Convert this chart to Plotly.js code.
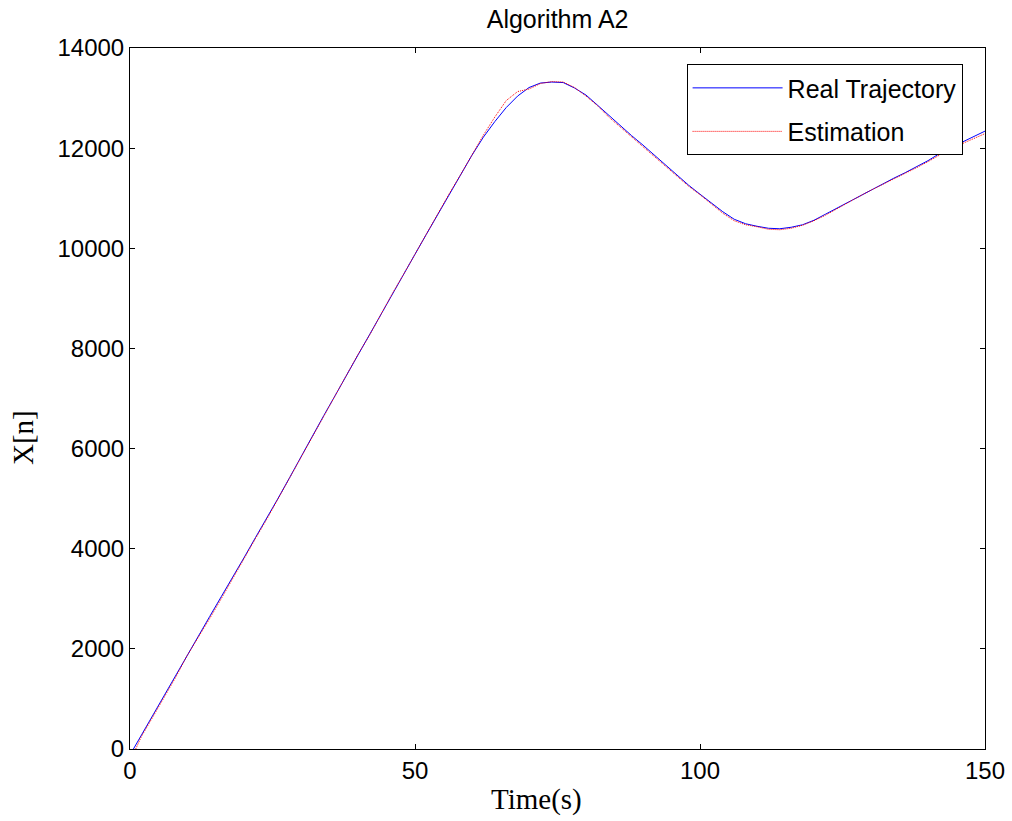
<!DOCTYPE html>
<html>
<head>
<meta charset="utf-8">
<script src="https://cdn.plot.ly/plotly-3.0.1.min.js"></script>
<style>html,body{margin:0;padding:0;background:#fff;}#chart{width:1012px;height:821px;}</style>
</head>
<body>
<div id="chart"></div>
<script>
var timeReal = [0.6, 2, 4, 6, 8, 10, 12, 14, 16, 18, 20, 22, 24, 26, 28, 30, 32, 34, 36, 38, 40, 42, 44, 46, 48, 50, 52, 54, 56, 58, 60, 62, 64, 66, 68, 70, 72, 74, 76, 78, 80, 82, 84, 86, 88, 90, 92, 94, 96, 98, 100, 102, 104, 106, 108, 110, 112, 114, 116, 118, 120, 122, 124, 126, 128, 130, 132, 134, 136, 138, 140, 142, 144, 146, 148, 150];
var realTrajectory = [0, 280, 680, 1080, 1480, 1870, 2260, 2650, 3040, 3420, 3820, 4220, 4610, 5010, 5420, 5840, 6250, 6660, 7060, 7480, 7870, 8270, 8680, 9080, 9490, 9880, 10280, 10680, 11080, 11480, 11860, 12220, 12530, 12810, 13040, 13210, 13300, 13320, 13310, 13200, 13060, 12860, 12650, 12450, 12250, 12060, 11860, 11660, 11460, 11260, 11080, 10910, 10730, 10580, 10490, 10440, 10400, 10390, 10420, 10470, 10560, 10680, 10800, 10930, 11050, 11170, 11280, 11400, 11510, 11630, 11750, 11890, 12020, 12120, 12230, 12340];
var timeEst = [1.0, 2, 4, 6, 8, 10, 12, 14, 16, 18, 20, 22, 24, 26, 28, 30, 32, 34, 36, 38, 40, 42, 44, 46, 48, 50, 52, 54, 56, 58, 60, 62, 64, 66, 68, 70, 72, 74, 76, 78, 80, 82, 84, 86, 88, 90, 92, 94, 96, 98, 100, 102, 104, 106, 108, 110, 112, 114, 116, 118, 120, 122, 124, 126, 128, 130, 132, 134, 136, 138, 140, 142, 144, 146, 148, 150];
var estimation = [0, 250, 640, 1030, 1430, 1860, 2230, 2610, 3000, 3410, 3800, 4200, 4590, 5000, 5430, 5830, 6260, 6650, 7070, 7470, 7880, 8260, 8690, 9090, 9480, 9890, 10270, 10690, 11090, 11470, 11880, 12260, 12620, 12950, 13130, 13180, 13290, 13330, 13320, 13210, 13040, 12850, 12620, 12420, 12230, 12030, 11840, 11640, 11430, 11240, 11070, 10880, 10700, 10550, 10470, 10430, 10380, 10370, 10400, 10460, 10550, 10660, 10790, 10920, 11040, 11160, 11270, 11390, 11500, 11610, 11730, 11860, 11990, 12090, 12190, 12290];
var xTicks = [0, 50, 100, 150];
var yTicks = [0, 2000, 4000, 6000, 8000, 10000, 12000, 14000];

var traces = [
  {x: timeReal, y: realTrajectory, type: 'scatter', mode: 'lines', name: 'Real Trajectory',
   legendgroup: 'a', line: {color: '#0000ff', width: 1}},
  {x: timeEst, y: estimation, type: 'scatter', mode: 'lines', name: 'Estimation',
   legendgroup: 'b', line: {color: '#ff0000', width: 1, dash: '1px,1px'}}
];
var axisCommon = {
  showgrid: false, zeroline: false, showline: true, mirror: 'ticks',
  linecolor: '#000', linewidth: 1, ticks: 'inside', ticklen: 5, tickcolor: '#000',
  tickfont: {family: 'Liberation Sans, Arial, sans-serif', size: 24, color: '#000'}
};
var serif = {family: 'Liberation Serif, Times New Roman, serif', size: 29, color: '#000'};
var layout = {
  width: 1012, height: 821,
  margin: {l: 130, r: 27, t: 48, b: 72},
  paper_bgcolor: '#fff', plot_bgcolor: '#fff',
  showlegend: true,
  title: {text: 'Algorithm A2', x: 0.551, xanchor: 'center', y: 0.976, yanchor: 'middle',
          font: {family: 'Liberation Sans, Arial, sans-serif', size: 25, color: '#000'}},
  xaxis: Object.assign({}, axisCommon, {range: [0, 150], tickvals: xTicks, ticktext: xTicks.map(String)}),
  yaxis: Object.assign({}, axisCommon, {range: [0, 14000], tickvals: yTicks, ticktext: yTicks.map(String)}),
  annotations: [
    {text: 'Time(s)', xref: 'paper', yref: 'paper', x: 0.475, y: -0.072, xanchor: 'center', yanchor: 'middle',
     showarrow: false, font: serif},
    {text: 'X[n]', xref: 'paper', yref: 'paper', x: -0.126, y: 0.444, xanchor: 'center', yanchor: 'middle',
     textangle: -90, showarrow: false, font: serif}
  ],
  legend: {x: 0.651, y: 0.977, xanchor: 'left', yanchor: 'top', bgcolor: '#fff',
           bordercolor: '#000', borderwidth: 1, traceorder: 'grouped', tracegroupgap: 8,
           itemwidth: 90,
           font: {family: 'Liberation Sans, Arial, sans-serif', size: 25, color: '#000'}}
};
Plotly.newPlot('chart', traces, layout, {displayModeBar: false, staticPlot: true});
</script>
</body>
</html>
